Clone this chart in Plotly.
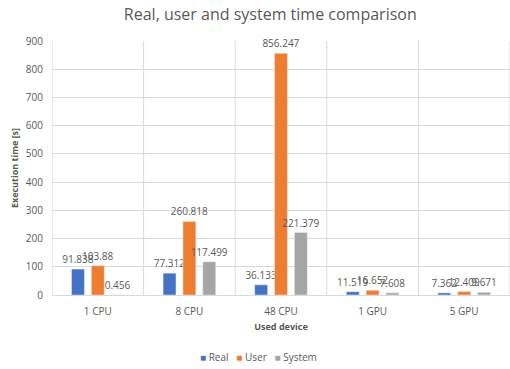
import plotly.graph_objects as go

categories = ["1 CPU", "8 CPU", "48 CPU", "1 GPU", "5 GPU"]
real = [91.838, 77.312, 36.133, 11.519, 7.362]
user = [103.88, 260.818, 856.247, 16.652, 12.409]
system = [0.456, 117.499, 221.379, 7.608, 9.671]

series = [("Real", real, "#4472C4"), ("User", user, "#ED7D31"), ("System", system, "#A5A5A5")]

fig = go.Figure()
for name, vals, col in series:
    fig.add_trace(go.Bar(
        x=categories, y=vals, name=name, marker_color=col,
        text=[f"{v:g}" for v in vals], textposition="outside",
        textfont=dict(size=10, color="#595959"), cliponaxis=False,
        constraintext="none",
    ))

shapes = []
for i in range(len(categories) + 1):
    shapes.append(dict(type="line", xref="x", yref="paper", x0=i - 0.5, x1=i - 0.5,
                       y0=0, y1=1, line=dict(color="#D9D9D9", width=1), layer="below"))

legend_text = "   ".join(
    f'<span style="color:{col}">■</span> {name}' for name, _, col in series
)

fig.update_layout(
    width=510, height=369,
    margin=dict(l=52, r=0, t=41, b=74),
    paper_bgcolor="white", plot_bgcolor="white",
    font=dict(family="Open Sans", color="#595959", size=9),
    title=dict(text="Real, user and system time comparison", x=0.53, xanchor="center",
               y=0.962, yanchor="middle", font=dict(size=16, color="#595959")),
    barmode="group", bargap=0.35, bargroupgap=0.35,
    shapes=shapes,
    showlegend=False,
    annotations=[dict(text=legend_text, xref="paper", yref="paper", x=0.45, y=-0.245,
                      xanchor="center", yanchor="middle", showarrow=False,
                      font=dict(size=10, color="#595959"))],
    xaxis=dict(title=dict(text="<b>Used device</b>", font=dict(size=9), standoff=6),
               showgrid=False, linecolor="#D9D9D9", ticks="", tickfont=dict(size=10),
               ticklabelstandoff=7, range=[-0.5, 4.5], automargin=False),
    yaxis=dict(title=dict(text="<b>Execution time [s]</b>", font=dict(size=9), standoff=5),
               range=[0, 900], dtick=100, gridcolor="#D9D9D9", zeroline=False,
               tickfont=dict(size=10), ticks="", ticklabelstandoff=8, automargin=False),
)

fig.write_html("out.html")
